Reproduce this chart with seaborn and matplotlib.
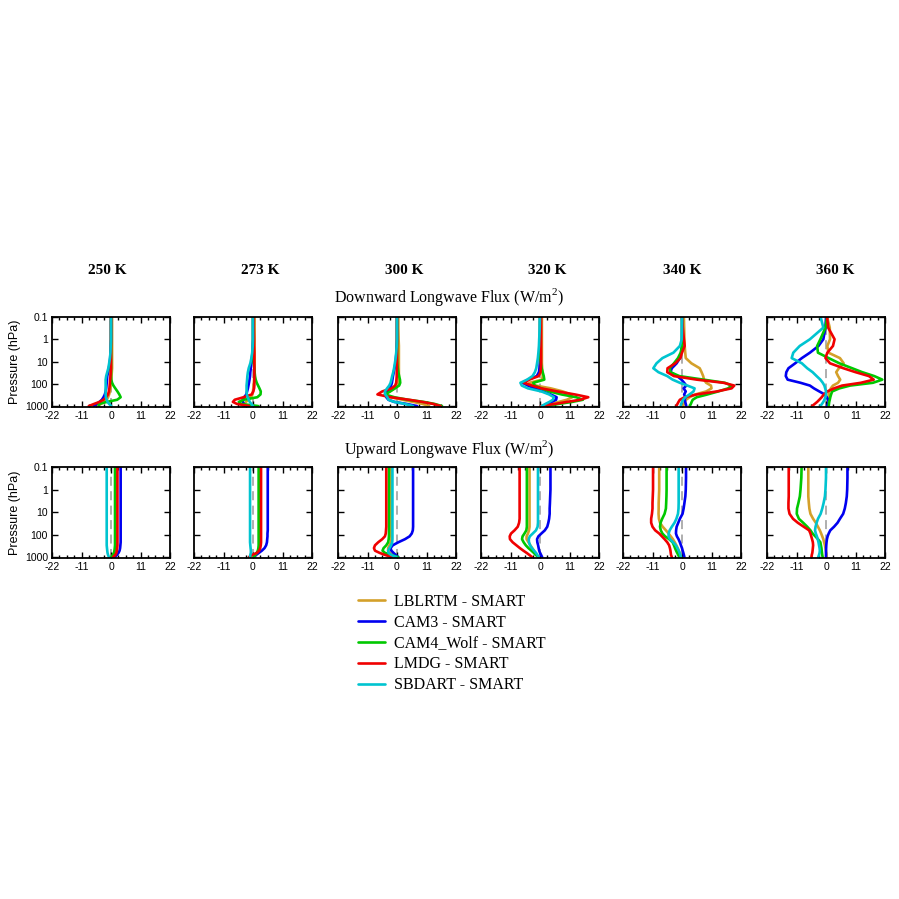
import pandas as pd
import matplotlib.pyplot as plt
from matplotlib.ticker import MultipleLocator, FixedLocator, NullLocator
import seaborn as sns

sns.set_style("ticks")
plt.rcParams['font.family'] = ['Liberation Sans', 'DejaVu Sans']
plt.rcParams['mathtext.fontset'] = 'custom'
plt.rcParams['mathtext.rm'] = 'Liberation Serif'
plt.rcParams['text.color'] = 'black'
plt.rcParams['axes.labelcolor'] = 'black'
plt.rcParams['xtick.color'] = 'black'
plt.rcParams['ytick.color'] = 'black'

temps = ['250 K', '273 K', '300 K', '320 K', '340 K', '360 K']
models = ['LBLRTM - SMART', 'CAM3 - SMART', 'CAM4_Wolf - SMART', 'LMDG - SMART', 'SBDART - SMART']
colors = ['#d4a02a', '#0000f0', '#00c800', '#f00000', '#00c4d0']
pressure = [0.1, 0.3, 1, 2, 4, 7, 12, 20, 30, 45, 65, 90, 120, 160, 220, 300, 400, 520, 650, 800, 1000]

# Downward longwave flux differences (W/m2), one row per surface temperature
down_lblrtm = [
    [0.4, 0.4, 0.4, 0.4, 0.4, 0.4, 0.4, 0.4, 0.3, 0.2, 0.1, 0, -0.1, -0.2, -0.4, -0.7, -1.1, -1.6, -2.5, -3.8, -5],
    [0.6, 0.6, 0.6, 0.6, 0.6, 0.6, 0.6, 0.6, 0.6, 0.5, 0.4, 0.3, 0.2, 0.1, 0, -0.2, -0.8, -1.8, -2.6, -3.2, -3.6],
    [0.5, 0.5, 0.6, 0.7, 0.7, 0.7, 0.7, 0.7, 0.7, 0.7, 0.6, 0.5, 0.2, -0.8, -2.8, -4.6, -2.5, 2, 6, 9.5, 12],
    [0.7, 0.7, 0.7, 0.7, 0.7, 0.7, 0.7, 0.8, 0.9, 1, 0.8, -4, -1.5, 4, 8.5, 11.5, 12, 10, 7, 4, 1.2],
    [0.7, 0.8, 0.9, 1, 1.2, 1.4, 3.5, 6.6, 7.3, 7.9, 8.2, 9, 10.8, 11, 9, 5, 2.8, 1.5, 1, 0.7, 0.4],
    [0.4, 1.4, 1.5, 0.5, 0.9, 5.2, 6.6, 4.8, 3.8, 4.5, 5.3, 4.5, 2.6, 1.8, 1.2, 1, 1, 1, 1, 1, 1],
]
down_cam3 = [
    [0, 0, 0, -0.1, -0.2, -0.3, -0.5, -0.8, -1.1, -1.4, -1.5, -1.6, -1.7, -1.8, -2, -2.3, -2.8, -3.4, -4.3, -5.3, -6.4],
    [0, 0, 0, -0.1, -0.2, -0.4, -0.6, -0.8, -1, -1.1, -1.3, -1.5, -1.7, -1.9, -2.2, -2.5, -3.3, -3.8, -3.8, -3.4, -3],
    [0, 0, 0, -0.1, -0.2, -0.4, -0.6, -0.9, -1.2, -1.5, -1.7, -1.9, -2.2, -2.8, -3.6, -4.2, -4, -3.2, -1, 3.5, 7.5],
    [0, 0, 0, 0, 0, 0, -0.1, -0.2, -0.4, -1.2, -4.5, -6.5, -4.5, -2, 1.2, 4, 6.2, 6, 4.2, 2.5, 1.2],
    [0, 0, 0, 0, -0.3, -0.8, -2, -3.8, -4.3, -1.8, -0.2, 0.8, 1.6, 0.6, 1.4, 0.8, 1.3, 1, 1.2, 1.4, 1.6],
    [0, -0.2, -1, -2.8, -6, -9, -11.5, -14, -14.8, -15, -14.3, -9.5, -6, -4.5, -2.5, -0.5, 0.3, 0.8, 1, 0.7, 0.4],
]
down_cam4 = [
    [0, 0, 0, 0, 0, 0, 0, 0, 0, 0, 0.1, 0.4, 0.9, 1.6, 2.4, 3.1, 3.6, 2.3, -1.5, -4.5, -4.5],
    [0, 0, 0, 0, 0.1, 0.2, 0.3, 0.5, 0.6, 0.75, 1, 1.4, 1.9, 2.4, 2.9, 2.8, 1.6, -3.5, -5.3, -4.5, 2],
    [0, 0, 0, 0, 0, 0, 0.1, 0.3, 0.5, 0.8, 1.1, 1.2, 0.8, -0.8, -2.5, -4.5, -1, 4, 10, 14, 16.8],
    [0, 0, 0, 0, 0, 0.1, 0.3, 0.6, 1, 1.4, 1.6, -2.5, -2, 0.5, 3.5, 8, 13.5, 16, 12, 7, 2.5],
    [0, 0, 0, 0, -0.5, -1.5, -3, -4.6, -4.3, -1, 8, 16, 18.5, 17.2, 13.5, 9.5, 5.5, 4, 3.6, 3.3, 2.9],
    [0.4, -0.2, -2.1, -3.3, -3, 1, 5, 9.75, 13.5, 18, 21, 17.5, 9, 5, 2.3, 1.9, 1.6, 1.4, 1.2, 1.1, 1],
]
down_lmdg = [
    [0, 0, 0, 0, 0, 0, 0, 0, -0.1, -0.2, -0.3, -0.4, -0.5, -0.6, -0.8, -1.1, -1.8, -2.8, -4.3, -6.3, -8.3],
    [0.3, 0.3, 0.4, 0.4, 0.5, 0.5, 0.5, 0.5, 0.5, 0.5, 0.5, 0.5, 0.5, 0.4, 0.1, -0.5, -3.5, -6.8, -7.5, -6, -1.5],
    [0, 0, 0, 0, 0, 0, 0, 0, -0.1, -0.1, -0.2, -0.3, -0.7, -2, -5.5, -7.3, -2.5, 4.5, 9.5, 13.5, 16.3],
    [0.4, 0.4, 0.4, 0.4, 0.4, 0.4, 0.4, 0.3, 0.2, -0.5, -4, -6, -3, 0.5, 6.5, 13, 18, 15, 10, 5.6, 0.3],
    [0, 0.3, 0.7, 1, 0, -0.6, -2.5, -5.4, -5.5, -3, 5.5, 15.5, 19.5, 18.5, 13, 5.5, 1, -0.8, -1.3, -1.7, -2.1],
    [0.4, 0.8, 3.2, 2.6, 0.5, -0.2, 1.5, 6.5, 11, 16, 17.8, 13, 6, 3, 0.5, -0.8, -1.6, -2.5, -3.3, -4.2, -5.2],
]
down_sbdart = [
    [0, 0, 0, -0.1, -0.2, -0.4, -0.7, -1, -1.4, -1.8, -2, -2, -2, -2, -2, -2, -1.9, -1.6, -1.3, -0.7, 0.1],
    [0, 0, 0, -0.1, -0.3, -0.6, -1, -1.6, -1.9, -2.1, -2.2, -2.3, -2.4, -2.4, -2.4, -2.3, -2, -1.6, -1.2, -0.6, 0],
    [0, 0, 0, -0.1, -0.3, -0.5, -0.8, -1.1, -1.4, -1.8, -2.1, -2.4, -2.9, -3.7, -4.5, -4.4, -3.6, -3.2, -1, 3, 6],
    [0, -0.1, -0.3, -0.4, -0.6, -0.8, -1.1, -1.4, -1.9, -2.8, -4.8, -7.3, -6.8, -4.5, 0.5, 3.4, 5.2, 4.8, 3.5, 2, 0.6],
    [0, 0, -0.1, -0.8, -3.2, -7.3, -9.5, -10.7, -8.8, -5.5, -3.5, -0.8, 2, 4.7, 4.3, 2.8, 1.2, 0.4, 0, -0.3, -0.5],
    [-2, -1, -6, -9.8, -12.2, -12.8, -9, -7, -5, -3.5, -2.1, -1.2, -0.6, -0.3, 0, 0, -0.2, -0.6, -1, -1.5, -2.1],
]

# Upward longwave flux differences (W/m2)
up_lblrtm = [
    [1.8, 1.8, 1.8, 1.8, 1.8, 1.8, 1.8, 1.8, 1.8, 1.8, 1.8, 1.8, 1.8, 1.8, 1.8, 1.8, 1.7, 1.5, 1.2, 0.8, 0.3],
    [2.5, 2.5, 2.5, 2.5, 2.5, 2.5, 2.5, 2.5, 2.5, 2.5, 2.5, 2.5, 2.5, 2.5, 2.5, 2.5, 2.3, 2.0, 1.5, 0.8, 0],
    [-2.1, -2.1, -2.1, -2.1, -2.1, -2.1, -2.1, -2.1, -2.1, -2.1, -2.1, -2.1, -2.1, -2.1, -2.3, -2.8, -3.3, -3.3, -2.7, -1.6, 0],
    [-3.9, -3.9, -3.9, -3.9, -3.9, -3.9, -3.9, -3.9, -3.9, -3.9, -4.1, -4.5, -5, -5, -4.3, -3.6, -2.9, -2.3, -1.8, -1.3, -0.8],
    [-8.5, -8.5, -8.5, -8.6, -8.7, -8.7, -8.75, -8.6, -8.2, -7.2, -6, -5, -4.2, -3.4, -2.7, -2.1, -1.6, -1.2, -0.9, -0.6, -0.4],
    [-6.6, -6.6, -6.6, -6.6, -6.4, -6.2, -5.8, -4.8, -3.8, -3, -2.3, -1.8, -1.4, -1, -0.7, -0.4, -0.2, 0, 0.1, 0.2, 0.25],
]
up_cam3 = [
    [3.6, 3.6, 3.6, 3.6, 3.6, 3.6, 3.6, 3.6, 3.6, 3.6, 3.6, 3.6, 3.6, 3.6, 3.6, 3.5, 3.4, 3.2, 2.8, 2.2, 1.4],
    [5.5, 5.5, 5.5, 5.5, 5.5, 5.5, 5.5, 5.5, 5.5, 5.5, 5.5, 5.4, 5.4, 5.3, 5.2, 4.9, 4.3, 3.3, 2.2, 1.2, 0.4],
    [6, 6, 6, 6, 6, 6, 6, 6, 6, 6, 5.9, 5.5, 4.7, 3, 0.5, -1.6, -2.4, -2.1, -1.3, -0.5, 0.5],
    [3.9, 3.9, 3.9, 3.8, 3.7, 3.6, 3.6, 3.4, 3.1, 2.7, 1.8, 0.5, -0.6, -1.1, -1, -0.7, -0.5, -0.3, 0, 0.4, 0.8],
    [1.5, 1.5, 1.4, 1.25, 0.9, 0.6, 0.2, -0.8, -1.4, -2, -2.2, -2.25, -1.9, -1.3, -0.8, -0.4, 0, 0.25, 0.5, 0.7, 0.9],
    [8, 8, 7.9, 7.75, 7.4, 7, 6.4, 5.2, 4.3, 3, 1.6, 1, 0.6, 0.35, 0.2, 0.1, 0.05, 0, 0, 0, 0],
]
up_cam4 = [
    [1.5, 1.5, 1.5, 1.5, 1.5, 1.5, 1.5, 1.5, 1.5, 1.5, 1.5, 1.5, 1.5, 1.5, 1.5, 1.5, 1.4, 1.3, 1.1, 0.7, 0.1],
    [2.1, 2.1, 2.1, 2.1, 2.1, 2.1, 2.1, 2.1, 2.1, 2.1, 2.1, 2.1, 2.1, 2.1, 2.1, 2.1, 2.0, 1.8, 1.4, 0.9, 0.3],
    [-3, -3, -3, -3, -3, -3, -3, -3, -3, -3, -3, -3, -3, -3.1, -3.3, -4, -5, -5.4, -4.5, -2.5, 0.4],
    [-4.9, -4.9, -4.9, -4.9, -4.9, -4.9, -4.9, -4.9, -4.9, -4.9, -5.1, -5.8, -6.5, -6.7, -6.1, -5.3, -4.3, -3.2, -2.3, -1.6, -0.5],
    [-5.75, -5.75, -5.75, -5.8, -5.9, -6, -6.5, -7.4, -8, -8.2, -7.9, -7.3, -6.3, -4.8, -3.5, -3, -2.6, -2.2, -1.8, -1.4, -1],
    [-9.1, -9.2, -9.5, -9.75, -10.3, -10.8, -10.9, -10.1, -8.5, -7, -5.8, -5, -4, -3, -2.1, -1.9, -1.7, -1.6, -1.5, -1.4, -1.25],
]
up_lmdg = [
    [2.4, 2.4, 2.4, 2.4, 2.4, 2.4, 2.4, 2.4, 2.4, 2.4, 2.4, 2.4, 2.4, 2.4, 2.4, 2.4, 2.3, 2.2, 2.0, 1.6, 0.8],
    [3, 3, 3, 3, 3, 3, 3, 3, 3, 3, 3, 3, 3, 3, 3, 2.9, 2.7, 2.3, 1.5, -0.3, -1.5],
    [-4, -4, -4, -4, -4, -4, -4, -4, -4, -4, -4.1, -4.2, -4.5, -5.5, -7, -8.2, -8.6, -8.2, -6.5, -4.5, -2],
    [-7.6, -7.6, -7.6, -7.6, -7.6, -7.6, -7.6, -7.6, -7.8, -8.3, -9.5, -10.8, -11.3, -11.2, -10.2, -8.8, -7.5, -6.2, -5, -4, -3],
    [-10.8, -10.8, -10.8, -10.9, -11, -11, -11.2, -11.5, -11.5, -11, -10, -8.5, -7.5, -6.5, -5.5, -4.8, -4.5, -4.3, -4.2, -4.1, -3.8],
    [-13.9, -13.9, -13.9, -13.9, -14, -14, -13.6, -12.3, -10.5, -8.3, -6.3, -5.8, -5.5, -5.2, -4.9, -4.8, -4.9, -5, -5.1, -5.3, -5.4],
]
up_sbdart = [
    [-1.6, -1.6, -1.6, -1.6, -1.6, -1.6, -1.6, -1.6, -1.6, -1.6, -1.6, -1.6, -1.6, -1.6, -1.6, -1.6, -1.5, -1.4, -1.3, -1.1, -0.8],
    [-1.1, -1.1, -1.1, -1.1, -1.1, -1.1, -1.1, -1.1, -1.1, -1.1, -1.1, -1.1, -1.1, -1.1, -1.1, -1.0, -0.9, -0.8, -0.8, -1.0, -1.1],
    [-1.7, -1.7, -1.7, -1.7, -1.7, -1.7, -1.7, -1.7, -1.7, -1.7, -1.7, -1.7, -1.7, -1.7, -1.8, -2.2, -2.8, -3.3, -3.2, -2.2, -0.2],
    [-0.75, -0.75, -0.75, -0.75, -0.75, -0.75, -0.75, -0.75, -0.75, -0.9, -1.5, -2.7, -3.8, -4.2, -4.1, -3.7, -3, -2.2, -1.5, -1, -0.5],
    [-1.25, -1.25, -1.25, -1.25, -1.25, -1.3, -1.5, -2.1, -2.8, -3.8, -4.6, -5, -5, -4.5, -3.3, -2.3, -1.7, -1.2, -0.9, -0.6, -0.4],
    [0, 0, -0.2, -0.4, -0.9, -1.4, -2, -3, -3.5, -3.9, -4.1, -3.8, -3.4, -3.1, -2.8, -2.6, -2.4, -2.3, -2.4, -2.6, -2.9],
]

down_sets = [down_lblrtm, down_cam3, down_cam4, down_lmdg, down_sbdart]
up_sets = [up_lblrtm, up_cam3, up_cam4, up_lmdg, up_sbdart]

rows = []
for direction, sets in [('down', down_sets), ('up', up_sets)]:
    for model, series in zip(models, sets):
        for temp, values in zip(temps, series):
            for p, v in zip(pressure, values):
                rows.append({'direction': direction, 'model': model, 'temp': temp,
                             'pressure': p, 'flux': v})
df = pd.DataFrame(rows)

fig = plt.figure(figsize=(8.99, 8.99), dpi=100)
W = 899.0
lefts = [52, 194, 338, 481, 623, 767]
row_px = {'down': (317, 407), 'up': (467, 558)}

first_ax = None
for direction in ['down', 'up']:
    top, bot = row_px[direction]
    for i, temp in enumerate(temps):
        ax = fig.add_axes([lefts[i] / W, 1 - bot / W, 118 / W, (bot - top) / W])
        sub = df[(df.direction == direction) & (df.temp == temp)]
        sns.lineplot(data=sub, x='flux', y='pressure', hue='model', hue_order=models,
                     palette=colors, orient='y', estimator=None, sort=True,
                     linewidth=1.9, legend=False, ax=ax)
        ax.axvline(0, color='#a8a8a8', linestyle=(0, (5, 3)), linewidth=1.3, zorder=0)
        ax.set_yscale('log')
        ax.set_ylim(1100, 0.1)
        ax.set_xlim(-22, 22)
        ax.xaxis.set_major_locator(FixedLocator([-22, -11, 0, 11, 22]))
        ax.xaxis.set_minor_locator(MultipleLocator(2.75))
        ax.yaxis.set_major_locator(FixedLocator([0.1, 1, 10, 100, 1000]))
        ax.yaxis.set_minor_locator(NullLocator())
        ax.set_xticklabels(['-22', '-11', '0', '11', '22'])
        if i == 0:
            ax.set_yticklabels(['0.1', '1', '10', '100', '1000'])
            ax.set_ylabel('Pressure (hPa)', fontsize=9, labelpad=3)
        else:
            ax.set_yticklabels([])
            ax.set_ylabel('')
        ax.set_xlabel('')
        ax.tick_params(which='both', direction='in', top=True, right=True,
                       labelsize=7.5, width=1, pad=3, colors='black')
        ax.tick_params(which='major', length=4)
        ax.tick_params(which='minor', length=2)
        for s in ax.spines.values():
            s.set_linewidth(1.3)
            s.set_color('black')
        if first_ax is None:
            first_ax = ax

serif = ['Liberation Serif', 'DejaVu Serif']
title_x = [107.5, 260.5, 404, 547.5, 682.5, 835.5]
for tx, temp in zip(title_x, temps):
    fig.text(tx / W, 1 - 270 / W, temp, ha='center', va='center',
             fontsize=11, fontweight='bold', family=serif)
fig.text(449 / W, 1 - 297 / W, 'Downward Longwave Flux (W/m$^2$)', ha='center', va='center',
         fontsize=11.5, family=serif)
fig.text(449 / W, 1 - 449 / W, 'Upward Longwave Flux (W/m$^2$)', ha='center', va='center',
         fontsize=11.5, family=serif)

handles = first_ax.lines[:5]
fig.legend(handles, models, loc='upper left', bbox_to_anchor=(358 / W, 1 - 594 / W),
           frameon=False, borderaxespad=0, borderpad=0, handlelength=1.7,
           handletextpad=0.55, labelspacing=0.3, prop={'family': serif, 'size': 11.5})

fig.savefig('out.png', dpi=100)
